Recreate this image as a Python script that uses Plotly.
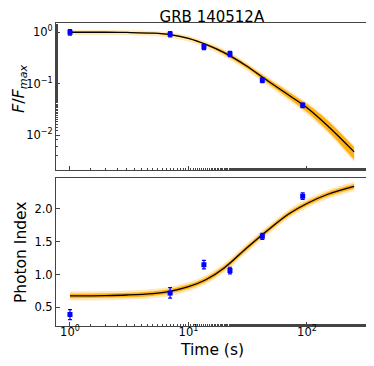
import plotly.graph_objects as go
from plotly.subplots import make_subplots

# observed data points
time_s = [1.0, 7.0, 13.5, 22.4, 42.0, 92.0]
flux_norm = [1.0, 0.92, 0.52, 0.38, 0.117, 0.038]
flux_err = [0.12, 0.11, 0.06, 0.045, 0.012, 0.004]
photon_index = [0.39, 0.72, 1.15, 1.06, 1.58, 2.19]
index_err = [0.075, 0.08, 0.065, 0.05, 0.045, 0.05]

# model curve
model_t = [1, 2, 3, 5, 7, 10, 14, 20, 30, 45, 70, 100, 150, 250]
model_flux = [1.0, 1.0, 0.99, 0.96, 0.90, 0.76, 0.58, 0.40, 0.23, 0.12, 0.060, 0.034, 0.015, 0.0047]
flux_hi = [1.02, 1.02, 1.01, 0.98, 0.93, 0.79, 0.61, 0.43, 0.25, 0.133, 0.069, 0.040, 0.019, 0.0058]
flux_lo = [0.98, 0.98, 0.97, 0.94, 0.87, 0.73, 0.55, 0.37, 0.21, 0.107, 0.052, 0.028, 0.012, 0.0033]
model_index = [0.675, 0.68, 0.688, 0.71, 0.745, 0.815, 0.92, 1.10, 1.38, 1.65, 1.92, 2.08, 2.22, 2.34]
index_band = 0.035

FONT = "DejaVu Sans"
ORANGE_IN = "rgba(255,170,0,0.9)"
ORANGE_OUT = "rgba(255,190,60,0.35)"

fig = make_subplots(rows=2, cols=1, vertical_spacing=0.027)


def add_band(lo, hi, color, row):
    fig.add_trace(go.Scatter(x=model_t, y=hi, mode="lines", line=dict(width=0, shape="spline"),
                             showlegend=False, hoverinfo="skip"), row=row, col=1)
    fig.add_trace(go.Scatter(x=model_t, y=lo, mode="lines", line=dict(width=0, shape="spline"),
                             fill="tonexty", fillcolor=color, showlegend=False, hoverinfo="skip"),
                  row=row, col=1)


# top panel: light curve
add_band([v * 0.9 for v in flux_lo], [v * 1.08 for v in flux_hi], ORANGE_OUT, 1)
add_band(flux_lo, flux_hi, ORANGE_IN, 1)
fig.add_trace(go.Scatter(x=model_t, y=model_flux, mode="lines",
                         line=dict(color="black", width=1.3, shape="spline"), showlegend=False), row=1, col=1)
fig.add_trace(go.Scatter(x=time_s, y=flux_norm, mode="markers",
                         marker=dict(color="blue", size=5, symbol="square"),
                         error_y=dict(type="data", array=flux_err, color="blue", thickness=1.2, width=2),
                         showlegend=False), row=1, col=1)

# bottom panel: photon index
add_band([v - 2 * index_band for v in model_index], [v + 2 * index_band for v in model_index], ORANGE_OUT, 2)
add_band([v - index_band for v in model_index], [v + index_band for v in model_index], ORANGE_IN, 2)
fig.add_trace(go.Scatter(x=model_t, y=model_index, mode="lines",
                         line=dict(color="black", width=1.3, shape="spline"), showlegend=False), row=2, col=1)
fig.add_trace(go.Scatter(x=time_s, y=photon_index, mode="markers",
                         marker=dict(color="blue", size=5, symbol="square"),
                         error_y=dict(type="data", array=index_err, color="blue", thickness=1.2, width=2),
                         showlegend=False), row=2, col=1)

axis_style = dict(showline=True, mirror=True, linecolor="#444", linewidth=1, ticks="inside",
                  tickcolor="#444", showgrid=False, zeroline=False, automargin=False,
                  tickfont=dict(family=FONT, size=11.5, color="black"))
log_ticks = dict(tickvals=[1, 10, 100], ticktext=["10<sup>0</sup>", "10<sup>1</sup>", "10<sup>2</sup>"])

fig.update_xaxes(type="log", range=[-0.118, 2.515], ticklen=4, ticklabelstandoff=-5,
                 minor=dict(ticks="inside", ticklen=2, tickcolor="#444"), **log_ticks, **axis_style)
fig.update_xaxes(showticklabels=False, row=1, col=1)
fig.update_yaxes(axis_style)
fig.update_yaxes(type="log", range=[-2.68, 0.18], ticklen=4, domain=[0.515, 1.0],
                 tickvals=[1, 0.1, 0.01], ticktext=["10<sup>0</sup>", "10<sup>−1</sup>", "10<sup>−2</sup>"],
                 minor=dict(ticks="inside", ticklen=2, tickcolor="#444"), row=1, col=1)
fig.update_yaxes(range=[0.217, 2.465], tickvals=[0.5, 1.0, 1.5, 2.0], domain=[0.0, 0.488],
                 ticktext=["0.5", "1.0", "1.5", "2.0"], ticklen=4, row=2, col=1)

# page body adds an 8px offset, so the figure is sized to fit the window
fig.update_layout(
    width=366, height=350,
    margin=dict(l=48, r=6, t=15, b=32),
    plot_bgcolor="white", paper_bgcolor="white",
    font=dict(family=FONT, color="black"),
    title=dict(text="GRB 140512A", x=0.557, xanchor="center", y=0.976, yanchor="middle",
               font=dict(family=FONT, size=15, color="black")),
    annotations=[
        dict(text="<i>F</i>/<i>F</i><sub><i>max</i></sub>", xref="paper", yref="paper",
             x=-0.119, y=0.785, xanchor="center", yanchor="middle", textangle=-90,
             showarrow=False, font=dict(family=FONT, size=16)),
        dict(text="Photon Index", xref="paper", yref="paper",
             x=-0.112, y=0.244, xanchor="center", yanchor="middle", textangle=-90,
             showarrow=False, font=dict(family=FONT, size=15.5)),
        dict(text="Time (s)", xref="paper", yref="paper", x=0.5, y=-0.079,
             xanchor="center", yanchor="middle", showarrow=False, font=dict(family=FONT, size=15.5)),
    ],
)

fig.write_html("out.html")
